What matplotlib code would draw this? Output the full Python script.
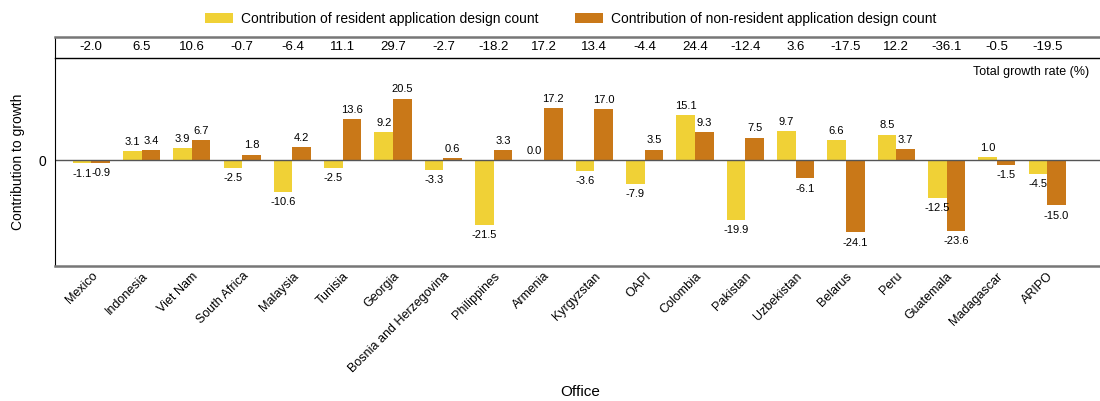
import matplotlib.pyplot as plt
import numpy as np

plt.rcParams["font.family"] = ["Liberation Sans", "DejaVu Sans"]

offices = ["Mexico", "Indonesia", "Viet Nam", "South Africa", "Malaysia", "Tunisia",
           "Georgia", "Bosnia and Herzegovina", "Philippines", "Armenia", "Kyrgyzstan",
           "OAPI", "Colombia", "Pakistan", "Uzbekistan", "Belarus", "Peru", "Guatemala",
           "Madagascar", "ARIPO"]
resident = [-1.1, 3.1, 3.9, -2.5, -10.6, -2.5, 9.2, -3.3, -21.5, 0.0, -3.6,
            -7.9, 15.1, -19.9, 9.7, 6.6, 8.5, -12.5, 1.0, -4.5]
non_resident = [-0.9, 3.4, 6.7, 1.8, 4.2, 13.6, 20.5, 0.6, 3.3, 17.2, 17.0,
                3.5, 9.3, 7.5, -6.1, -24.1, 3.7, -23.6, -1.5, -15.0]
total_growth = [-2.0, 6.5, 10.6, -0.7, -6.4, 11.1, 29.7, -2.7, -18.2, 17.2, 13.4,
                -4.4, 24.4, -12.4, 3.6, -17.5, 12.2, -36.1, -0.5, -19.5]

YELLOW = "#F0D136"
ORANGE = "#C97818"

fig = plt.figure(figsize=(11, 4.01), dpi=100)
ax = fig.add_axes([0.05, 0.3367, 0.95, 0.5187])
ax_top = fig.add_axes([0.05, 0.8554, 0.95, 0.0524])

x = np.arange(len(offices))
w = 0.37
xlim = (-0.72, len(offices) - 1 + 1.05)

b1 = ax.bar(x - w / 2, resident, w, color=YELLOW, label="Contribution of resident application design count")
b2 = ax.bar(x + w / 2, non_resident, w, color=ORANGE, label="Contribution of non-resident application design count")
ax.axhline(0, color="#555555", linewidth=1)

# value labels: above positive bars, below negative ones
for bars, vals in ((b1, resident), (b2, non_resident)):
    for bar, v in zip(bars, vals):
        cx = bar.get_x() + bar.get_width() / 2
        if v >= 0:
            ax.annotate(f"{v:.1f}", (cx, v), xytext=(0, 3), textcoords="offset points",
                        ha="center", va="bottom", fontsize=8)
        else:
            ax.annotate(f"{v:.1f}", (cx, v), xytext=(0, -4), textcoords="offset points",
                        ha="center", va="top", fontsize=8)

ax.set_xlim(*xlim)
ax.set_ylim(-35.3, 34)
ax.set_yticks([0])
ax.set_yticklabels(["0"], fontsize=10)
ax.tick_params(axis="y", length=0, pad=6)
ax.set_xticks(x)
ax.set_xticklabels(offices, rotation=45, ha="right", rotation_mode="anchor", fontsize=9)
ax.tick_params(axis="x", length=0, pad=3)
ax.set_ylabel("Contribution to growth", fontsize=10)
ax.yaxis.set_label_coords(-0.029, 0.5)
for s in ("top", "right"):
    ax.spines[s].set_visible(False)
ax.spines["left"].set_color("black")
ax.spines["left"].set_linewidth(0.8)
ax.spines["bottom"].set_color("#777777")
ax.spines["bottom"].set_linewidth(1.8)
ax.text(0.99, 0.933, "Total growth rate (%)", transform=ax.transAxes,
        ha="right", va="center", fontsize=9)
fig.text(580 / 1100, 1 - 392 / 401, "Office", ha="center", va="center", fontsize=11)

# total growth strip
ax_top.set_xlim(*xlim)
ax_top.set_ylim(0, 1)
for xi, t in zip(x, total_growth):
    ax_top.text(xi, 0.5, f"{t:.1f}", ha="center", va="center", fontsize=9.5)
ax_top.set_xticks([])
ax_top.set_yticks([])
ax_top.spines["right"].set_visible(False)
ax_top.spines["top"].set_color("#777777")
ax_top.spines["top"].set_linewidth(1.8)
ax_top.spines["bottom"].set_color("black")
ax_top.spines["bottom"].set_linewidth(1)
ax_top.spines["left"].set_linewidth(0.8)

fig.legend(handles=[b1, b2], loc="center", bbox_to_anchor=(0.519, 0.953), ncol=2,
           frameon=False, fontsize=10, handlelength=2.0, handleheight=0.7,
           columnspacing=2.6, handletextpad=0.6)

fig.savefig("out.png", dpi=100)
